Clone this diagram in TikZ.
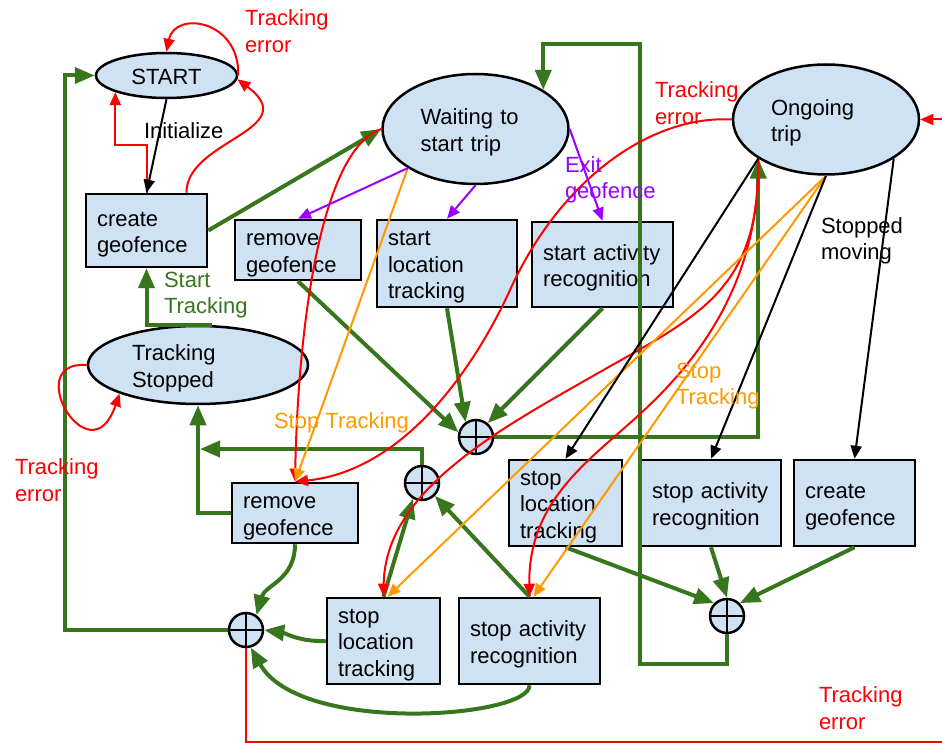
\documentclass[tikz,border=0pt]{standalone}
\usepackage{fontspec}
\setmainfont{Liberation Sans}
\usetikzlibrary{shapes.geometric,arrows.meta}

\definecolor{boxblue}{RGB}{207,226,243}
\definecolor{flowgreen}{RGB}{56,118,29}
\definecolor{errred}{RGB}{255,0,0}
\definecolor{stoporange}{RGB}{255,153,0}
\definecolor{geopurple}{RGB}{153,0,255}

\tikzset{every picture/.style={line width=2pt}}

\begin{document}
\begin{tikzpicture}[x=1pt,y=1pt,yscale=-1,xscale=1,
	font=\fontsize{22}{26.5}\selectfont,
	linestruts/.style={execute at begin node={\rule{0pt}{22.5pt}}, execute at end node={\rule[-4.7pt]{0pt}{4.7pt}}},
	stateoval/.style={ellipse, draw, line width=2.5pt, fill=boxblue, inner sep=0pt, align=left, linestruts},
	taskbox/.style={rectangle, draw, line width=2.5pt, fill=boxblue, inner xsep=11pt, inner ysep=0pt, align=left, linestruts},
	sumnode/.style={circle, draw, line width=2.5pt, fill=boxblue, minimum size=34pt, inner sep=0pt,
		path picture={\draw[line width=2.5pt] (path picture bounding box.north) -- (path picture bounding box.south)
			(path picture bounding box.west) -- (path picture bounding box.east);}},
	greenflow/.style={flowgreen, line width=4pt, -{Triangle[length=20pt,width=16pt]}},
	thinarrow/.style={line width=2pt, -{Triangle[length=13pt,width=11pt]}},
	errline/.style={thinarrow, errred},
	stopline/.style={thinarrow, stoporange},
	geoline/.style={thinarrow, geopurple},
	moveline/.style={thinarrow, black},
	lbl/.style={anchor=west, inner sep=0pt, align=left}
	]
	\useasboundingbox (0,0) rectangle (942,743);
	
	% states
	\node[stateoval, minimum width=141pt, minimum height=45pt] (start) at (166.5,75.5) {START};
	\node[stateoval, minimum width=186pt, minimum height=110pt, text width=110pt] (wait) at (475.5,129) {Waiting to\\start trip};
	\node[stateoval, minimum width=186pt, minimum height=110pt, text width=110pt] (ongo) at (826,119.5) {Ongoing\\trip};
	\node[stateoval, minimum width=220pt, minimum height=78pt, text width=132pt] (tstop) at (198,365) {Tracking\\Stopped};
	
	% actions
	\node[taskbox, text width=99pt, minimum height=73pt] (cgA) at (146.5,230.5) {create\\geofence};
	\node[taskbox, text width=104pt, minimum height=60pt] (rgA) at (298,250) {remove\\geofence};
	\node[taskbox, text width=118pt, minimum height=87pt] (sltA) at (447,263.5) {start\\location\\tracking};
	\node[taskbox, text width=119pt, minimum height=85pt] (sarA) at (602.5,264.5) {start~activity\\recognition};
	\node[taskbox, text width=104pt, minimum height=60pt] (rgB) at (295,513) {remove\\geofence};
	\node[taskbox, text width=91pt, minimum height=86pt] (sltB) at (565.5,503) {stop\\location\\tracking};
	\node[taskbox, text width=118pt, minimum height=86pt] (sarB) at (711,503) {stop~activity\\recognition};
	\node[taskbox, text width=99pt, minimum height=86pt] (cgB) at (854.5,503) {create\\geofence};
	\node[taskbox, text width=91pt, minimum height=86pt] (sltC) at (383.5,641) {stop\\location\\tracking};
	\node[taskbox, text width=119pt, minimum height=86pt] (sarC) at (529.5,641) {stop~activity\\recognition};
	
	% junctions
	\node[sumnode] (sumA) at (476,437) {};
	\node[sumnode] (sumB) at (422,483) {};
	\node[sumnode] (sumC) at (246,630) {};
	\node[sumnode] (sumD) at (727,616) {};
	
	\coordinate (tsjoin) at (200,449);
	\coordinate (loopbl) at (640,664);
	\coordinate (looptl) at (640,44);
	
	% green flows
	\draw[greenflow] (cgA.east) -- (wait.west);
	\draw[greenflow] ([xshift=14pt]tstop.north) -| (cgA.south);
	\draw[greenflow] (rgB.west) -| (tstop.south);
	\draw[greenflow] (sumB.north) |- (tsjoin);
	\draw[greenflow] (rgA.south) -- (sumA.165);
	\draw[greenflow] (sltA.south) -- (sumA.125);
	\draw[greenflow] (sarA.south) -- (sumA.50);
	\draw[greenflow] (sumA.east) -| (ongo.210);
	\draw[greenflow] (sumD.south) |- (loopbl) -- (looptl) -| (wait.30);
	\draw[greenflow] (sltB.south) -- (sumD.135);
	\draw[greenflow] (sarB.south) -- (sumD.north);
	\draw[greenflow] (cgB.south) -- (sumD.45);
	\draw[greenflow] (sltC.north) -- (sumB.-120);
	\draw[greenflow] (sarC.north) -- (sumB.-45);
	\draw[greenflow] (rgB.south) .. controls (295,580) and (265,585) .. (sumC.55);
	\draw[greenflow] (sltC.west) .. controls (300,642) and (285,633) .. (sumC.east);
	\draw[greenflow] (sarC.south) .. controls (530,718) and (300,735) .. (sumC.-75);
	\draw[greenflow] (sumC.west) -- ++(-163,0) |- (start.west);
	
	% tracking errors
	\draw[errline] (start.east) .. controls (240,20) and (175,10) .. (start.north);
	\draw[errline] ([xshift=40pt]cgA.north) .. controls (186,140) and (305,130) .. (start.-3);
	\draw[errline] (cgA.north) -- ++(0,-48) -| (start.198);
	\draw[errline] (tstop.west) .. controls (20,360) and (90,480) .. (tstop.200);
	\draw[errline] (wait.west) .. controls (320,150) and (298,330) .. (rgB.north);
	\draw[errline] (ongo.west) .. controls (650,115) and (560,180) .. (510,290) .. controls (480,356) and (410,470) .. (rgB.north);
	\draw[errline] (ongo.210) .. controls (760,290) and (700,315) .. (600,372) .. controls (500,429) and (385,490) .. (sltC.north);
	\draw[errline] (ongo.210) .. controls (760,280) and (700,359) .. (640,414) .. controls (590,460) and (528,500) .. (sarC.north);
	\draw[errline] (sumC.south) -- ++(0,94) -| ([xshift=26pt]ongo.east) -- (ongo.east);
	
	% stop tracking
	\draw[stopline] (wait.210) -- (rgB.north);
	\draw[stopline] (ongo.south) -- ([xshift=4pt]sltC.north);
	\draw[stopline] (ongo.south) -- ([xshift=4pt]sarC.north);
	
	% geofence
	\draw[geoline] (wait.210) -- (rgA.north);
	\draw[geoline] (wait.south) -- (sltA.north);
	\draw[geoline] (wait.east) -- (sarA.north);
	
	% movement
	\draw[moveline] (start.south) -- (cgA.north);
	\draw[moveline] (ongo.210) -- (sltB.north);
	\draw[moveline] (ongo.south) -- (sarB.north);
	\draw[moveline] (ongo.-30) -- (cgB.north);
	
	% labels
	\node[lbl, errred] (errStart) at (244,31) {Tracking\\error};
	\node[lbl] (initLbl) at (143,131) {Initialize};
	\node[lbl, flowgreen] (startTrk) at (163,295) {Start\\Tracking};
	\node[lbl, errred] (errStop) at (14,480) {Tracking\\error};
	\node[lbl, geopurple] (exitLbl) at (564,180) {Exit\\geofence};
	\node[lbl, errred] (errOngo) at (654,103) {Tracking\\error};
	\node[lbl] (movLbl) at (820,241) {Stopped\\moving};
	\node[lbl, stoporange] (stopLblA) at (273,423) {Stop Tracking};
	\node[lbl, stoporange] (stopLblB) at (675,386) {Stop\\Tracking};
	\node[lbl, errred] (errEnd) at (818,708) {Tracking\\error};
	
\end{tikzpicture}
\end{document}
